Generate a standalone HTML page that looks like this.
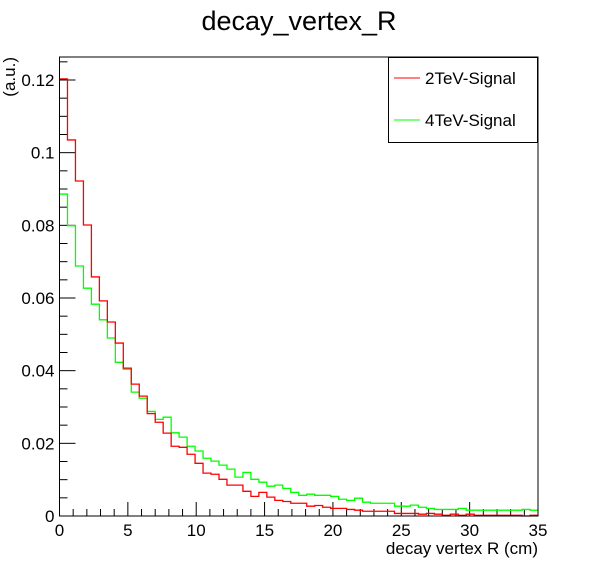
<!DOCTYPE html>
<html><head><meta charset="utf-8"><style>
body{margin:0;background:#fff;}
svg{display:block;font-family:"Liberation Sans",Arial,sans-serif;}
</style></head><body>
<svg id="c" width="598" height="574">
<rect width="598" height="574" fill="#fff"/>
<text x="299" y="30" font-size="27" text-anchor="middle">decay_vertex_R</text>
<g id="axes"></g>
<g id="series"></g>
<rect x="59.5" y="57" width="478.5" height="459" fill="none" stroke="#000" stroke-width="1"/>
<text x="538" y="554" font-size="17" text-anchor="end">decay vertex R (cm)</text>
<text transform="translate(15,57) rotate(-90)" font-size="17" text-anchor="end">(a.u.)</text>
<g>
<rect x="388.5" y="57.5" width="149" height="85" fill="#fff" stroke="#000"/>
<line x1="394" y1="78" x2="420" y2="78" stroke="#f00"/>
<text x="425" y="84" font-size="17">2TeV-Signal</text>
<line x1="394" y1="120" x2="420" y2="120" stroke="#0f0"/>
<text x="425" y="126" font-size="17">4TeV-Signal</text>
</g>
</svg>
<script>
const xTicks=[0,5,10,15,20,25,30,35];
const yTicks=[0,0.02,0.04,0.06,0.08,0.1,0.12];
const yTickLabels=["0","0.02","0.04","0.06","0.08","0.1","0.12"];
const binWidth=35/60;
const red2TeV=[0.1203,0.1035,0.0922,0.0801,0.0658,0.0592,0.0534,0.0476,0.0407,0.0363,0.0330,0.0282,0.0258,0.0228,0.0192,0.0189,0.0170,0.0145,0.0118,0.0115,0.0101,0.0085,0.0085,0.0068,0.0054,0.0065,0.0052,0.0043,0.0040,0.0035,0.0035,0.0027,0.0029,0.0024,0.0021,0.0021,0.0018,0.0016,0.0013,0.0013,0.0013,0.0013,0.0007,0.0007,0.0007,0.0005,0.0007,0.0005,0.0002,0.0005,0.0002,0.0005,0.0002,0.0002,0.0002,0.0002,0.0002,0.0002,0.0,0.0002];
const green4TeV=[0.0886,0.0799,0.0688,0.0627,0.0583,0.0540,0.0490,0.0423,0.0404,0.0341,0.0324,0.0288,0.0266,0.0272,0.0229,0.0217,0.0192,0.0179,0.0159,0.0151,0.0140,0.0129,0.0107,0.0120,0.0101,0.0093,0.0082,0.0085,0.0076,0.0065,0.0057,0.0060,0.0057,0.0057,0.0054,0.0046,0.0043,0.0049,0.0038,0.0035,0.0035,0.0035,0.0027,0.0027,0.0030,0.0024,0.0021,0.0018,0.0018,0.0018,0.0021,0.0016,0.0016,0.0016,0.0016,0.0016,0.0016,0.0016,0.0018,0.0016];
const NS="http://www.w3.org/2000/svg";
const X0=59.5,X1=538,Y0=516,YT=57;
function sx(v){return X0+(X1-X0)*v/35;}
function sy(v){return Y0-v*(Y0-80)/0.12;}
const axes=document.getElementById('axes');
function mk(tag,attrs,parent){const e=document.createElementNS(NS,tag);for(const k in attrs)e.setAttribute(k,attrs[k]);parent.appendChild(e);return e;}
for(let i=0;i<=35;i++){
  const len=(i%5===0)?14:7;
  const t=mk('line',{x1:sx(i),x2:sx(i),y1:Y0,y2:Y0-len,stroke:'#000'},axes);
  
  
}
xTicks.forEach(v=>{
  const t=mk('text',{x:sx(v),y:Y0+20,'font-size':17,'text-anchor':'middle'},axes);
  t.textContent=v;
  
  
});
for(let i=0;i*0.005<=0.1264;i++){
  const v=i*0.005;const len=(i%4===0)?16:8;
  const t=mk('line',{x1:X0,x2:X0+len,y1:sy(v),y2:sy(v),stroke:'#000'},axes);
  
  
}
yTicks.forEach((v,i)=>{
  const t=mk('text',{x:X0-5,y:sy(v)+6,'font-size':17,'text-anchor':'end'},axes);
  t.textContent=yTickLabels[i];
  
  
});
function hist(vals,color,name){
  let d='';
  vals.forEach((v,i)=>{
    const xa=sx(i*binWidth),xb=sx((i+1)*binWidth),y=sy(v);
    d+=(i===0?'M'+xa+','+y:'L'+xa+','+y)+'L'+xb+','+y;
  });
  const p=mk('path',{d:d,fill:'none',stroke:color,'stroke-width':1.3},document.getElementById('series'));
  
  
}
hist(green4TeV,'#0f0','histogram-4tev');
hist(red2TeV,'#f00','histogram-2tev');
</script>
</body></html>
